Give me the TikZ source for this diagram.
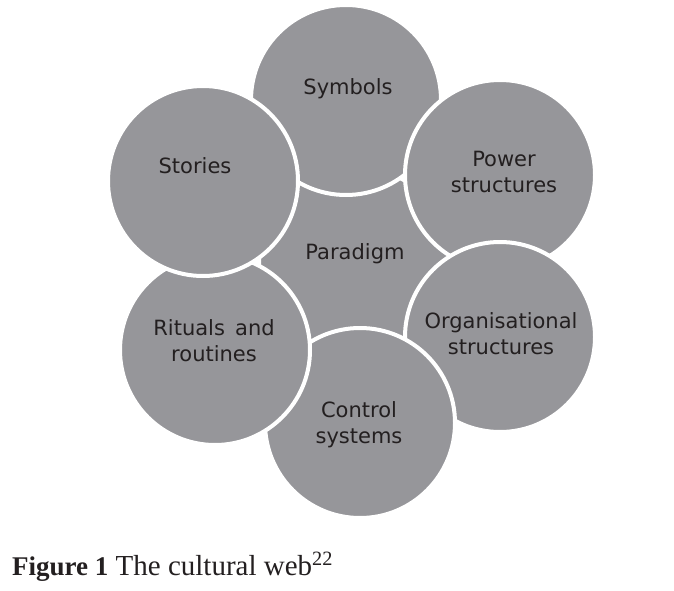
\documentclass[tikz,border=0pt]{standalone}
\usepackage{fontspec}
\setmainfont{DejaVu Sans}
\newfontfamily\capfont{Liberation Serif}
\usetikzlibrary{positioning}
\definecolor{webgrey}{RGB}{150,150,154}
\definecolor{webink}{RGB}{35,31,32}

\begin{document}
\begin{tikzpicture}[x=1pt, y=-1pt,
    cell/.style={circle, fill=webgrey, draw=white, line width=4pt, minimum size=190pt, inner sep=0pt},
    celltext/.style={text=webink, font=\fontsize{21}{26}\selectfont, align=center, inner sep=0pt}]
    \useasboundingbox (0, 0) rectangle (674, 591);
    % circles, drawn from the middle one round clockwise
    \node[cell] (paradigm) at (354, 261) {};
    \node[cell] (symbols) at (346, 100) {};
    \node[cell] (power) at (500, 175) {};
    \node[cell] (organisational) at (500, 337) {};
    \node[cell] (control) at (360, 423) {};
    \node[cell] (rituals) at (215, 350) {};
    \node[cell] (stories) at (203, 181) {};
    % labels
    \node[celltext] (paradigmtext) at ([shift={(1, -7)}]paradigm.center) {Paradigm};
    \node[celltext] (symbolstext) at ([shift={(2, -11)}]symbols.center) {Symbols};
    \node[celltext] (powertext) at ([shift={(4, -3)}]power.center) {Power\\structures};
    \node[celltext] (organisationaltext) at ([shift={(1, -3)}]organisational.center) {Organisational\\structures};
    \node[celltext] (controltext) at ([shift={(-1, 2)}]control.center) {Control\\systems};
    \node[celltext] (ritualstext) at ([shift={(-1, -9)}]rituals.center) {Rituals\, and\\routines};
    \node[celltext] (storiestext) at ([shift={(-8, -15)}]stories.center) {Stories};
    % caption
    \node[anchor=base west, inner sep=0pt, text=webink, font=\capfont\fontsize{29}{33}\selectfont] (caption) at (12, 575)
        {{\fontsize{27}{31}\selectfont\bfseries Figure 1} The cultural web\textsuperscript{22}};
\end{tikzpicture}
\end{document}
